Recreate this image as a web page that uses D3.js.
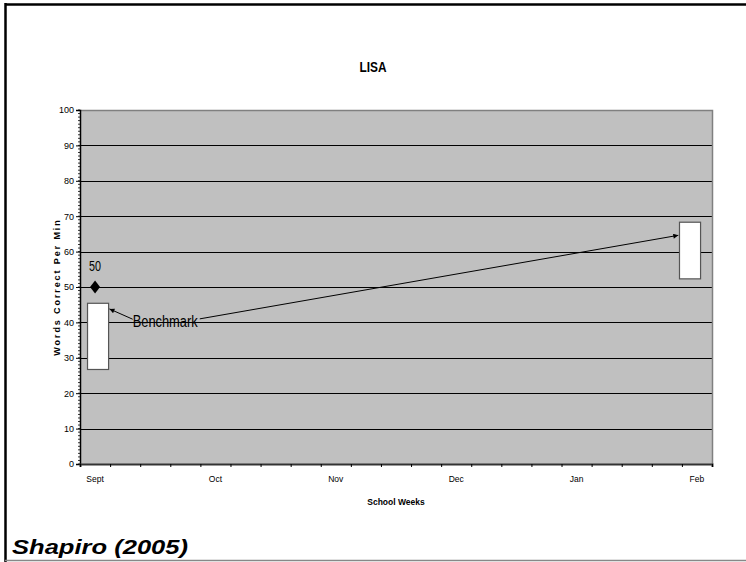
<!DOCTYPE html>
<html><head><meta charset="utf-8">
<script src="https://cdn.jsdelivr.net/npm/d3@7"></script>
<style>
body{margin:0;background:#fff;}
svg{display:block;font-family:"Liberation Sans",Arial,sans-serif;}
</style></head>
<body>
<svg id="c" width="746" height="562"></svg>
<script>
// ---- data ----
const title = "LISA";
const yTitle = "Words Correct Per Min";
const xTitle = "School Weeks";
const source = "Shapiro (2005)";
const weekCount = 21;
const monthLabels = ["Sept","Oct","Nov","Dec","Jan","Feb"];
const monthWeeks = [0,4,8,12,16,20];
const yTicks = [0,10,20,30,40,50,60,70,80,90,100];
// floating range boxes (week position, low, high)
const boxWeeks = [0.6, 20.27];
const boxLow = [26.7, 52.3];
const boxHigh = [45.4, 68.3];
// benchmark point
const benchWeek = [0.5];
const benchValue = [50];
// "Benchmark" annotation: label position and arrows (week, value)
const annoLabel = {week: 1.75, value: 40.5, text: "Benchmark"};
const arrowStart = [[1.75, 40.9], [3.98, 41.0]];
const arrowEnd = [[0.98, 43.8], [19.88, 64.6]];

// ---- layout ----
const svg = d3.select("#c");
const L = 80, R = 712, T = 110, B = 464;
const x = d3.scaleLinear().domain([0, weekCount]).range([L, R]);
const xb = d3.scaleBand().domain(d3.range(weekCount)).range([L, R]).paddingInner(0).paddingOuter(0);
const y = d3.scaleLinear().domain([0, 100]).range([B, T]);
const narrow = "'Liberation Sans Narrow','Arial Narrow','Liberation Sans',Arial";

// frame
svg.append("line").attr("x1",5.5).attr("y1",3).attr("x2",5.5).attr("y2",562).attr("stroke","#000").attr("stroke-width",2.5);
svg.append("line").attr("x1",5).attr("y1",4.5).attr("x2",746).attr("y2",4.5).attr("stroke","#000").attr("stroke-width",2.5);
svg.append("line").attr("x1",5).attr("y1",560.5).attr("x2",746).attr("y2",560.5).attr("stroke","#888").attr("stroke-width",1.5);

// plot area
svg.append("rect").attr("x",L).attr("y",T).attr("width",R-L).attr("height",B-T).attr("fill","#c0c0c0");
// gridlines
svg.append("g").selectAll("line").data(yTicks.filter(d=>d>0 && d<100)).join("line")
  .attr("x1",L).attr("x2",R).attr("y1",d=>Math.round(y(d))+0.5).attr("y2",d=>Math.round(y(d))+0.5)
  .attr("stroke","#000").attr("stroke-width",1);
// top/right border
svg.append("path").attr("d",`M${L},${T+0.5}H${R+0.5}V${B}`).attr("fill","none").attr("stroke","#808080").attr("stroke-width",1.5);

// y axis
const yAxis = d3.axisLeft(y).tickValues(yTicks).tickSize(4).tickPadding(2).tickFormat(d3.format("d"));
const gy = svg.append("g").attr("transform",`translate(${L},0)`).call(yAxis);
gy.select(".domain").attr("stroke","#000").attr("stroke-width",1.5);
gy.selectAll(".tick line").attr("stroke","#000");
gy.selectAll("text").attr("font-size",9).attr("fill","#000").style("font-family",narrow);
// minor y ticks
svg.append("g").selectAll("line").data(d3.range(0,101,1)).join("line")
  .attr("x1",L-2).attr("x2",L).attr("y1",d=>y(d)).attr("y2",d=>y(d)).attr("stroke","#000").attr("stroke-width",0.8);

// x axis
const xAxis = d3.axisBottom(x).tickValues(d3.range(0, weekCount+1)).tickSize(3).tickFormat("");
const gx = svg.append("g").attr("transform",`translate(0,${B})`).call(xAxis);
gx.select(".domain").attr("stroke","#333").attr("stroke-width",2);
gx.selectAll(".tick line").attr("stroke","#000");
svg.append("g").selectAll("text").data(monthWeeks).join("text")
  .attr("x",(d)=>xb(d)+xb.bandwidth()/2).attr("y",B+18)
  .attr("text-anchor","middle").attr("font-size",8.5).attr("fill","#000")
  .style("font-family",narrow)
  .text((d,i)=>monthLabels[i]);

// boxes
const bw = xb.bandwidth()*0.7;
svg.append("g").selectAll("rect").data(boxWeeks).join("rect")
  .attr("x",(d)=>x(d)-bw/2).attr("width",bw)
  .attr("y",(d,i)=>y(boxHigh[i])).attr("height",(d,i)=>y(boxLow[i])-y(boxHigh[i]))
  .attr("fill","#fff").attr("stroke","#555").attr("stroke-width",1.2);

// benchmark diamond + label
svg.append("g").selectAll("path").data(benchWeek).join("path")
  .attr("transform",(d,i)=>`translate(${x(d)},${y(benchValue[i])})`)
  .attr("d","M0,-6.5L5,0L0,6.5L-5,0Z").attr("fill","#000");
svg.append("g").selectAll("text").data(benchWeek).join("text")
  .attr("x",d=>x(d)).attr("y",(d,i)=>y(benchValue[i])-16)
  .attr("text-anchor","middle").attr("font-size",14).attr("fill","#000")
  .attr("textLength",12).attr("lengthAdjust","spacingAndGlyphs")
  .text((d,i)=>benchValue[i]);

// annotation
const defs = svg.append("defs");
defs.append("marker").attr("id","ah").attr("viewBox","0 0 10 10").attr("refX",10).attr("refY",5)
  .attr("markerWidth",6).attr("markerHeight",5).attr("orient","auto").attr("markerUnits","userSpaceOnUse")
  .append("path").attr("d","M0,0L10,5L0,10Z").attr("fill","#000");
svg.append("g").selectAll("line").data(arrowStart).join("line")
  .attr("x1",d=>x(d[0])).attr("y1",d=>y(d[1]))
  .attr("x2",(d,i)=>x(arrowEnd[i][0])).attr("y2",(d,i)=>y(arrowEnd[i][1]))
  .attr("stroke","#000").attr("stroke-width",1).attr("marker-end","url(#ah)");
svg.append("text").attr("x",x(annoLabel.week)).attr("y",y(annoLabel.value)+6.5)
  .attr("font-size",16).attr("fill","#000").attr("textLength",65).attr("lengthAdjust","spacingAndGlyphs")
  .text(annoLabel.text);

// titles
svg.append("text").attr("x",373).attr("y",72).attr("text-anchor","middle")
  .attr("font-size",14).attr("font-weight","bold").attr("textLength",27).attr("lengthAdjust","spacingAndGlyphs").text(title);
svg.append("text").attr("x",396).attr("y",505).attr("text-anchor","middle")
  .attr("font-size",8.5).attr("font-weight","bold").text(xTitle);
svg.append("text").attr("transform",`translate(60,${(T+B)/2}) rotate(-90)`).attr("text-anchor","middle")
  .attr("font-size",9).attr("font-weight","bold").attr("letter-spacing",1.9).text(yTitle);
svg.append("text").attr("x",12).attr("y",554)
  .attr("font-size",21).attr("font-weight","bold").attr("font-style","italic")
  .attr("textLength",176).attr("lengthAdjust","spacingAndGlyphs").text(source);
</script>
</body></html>
